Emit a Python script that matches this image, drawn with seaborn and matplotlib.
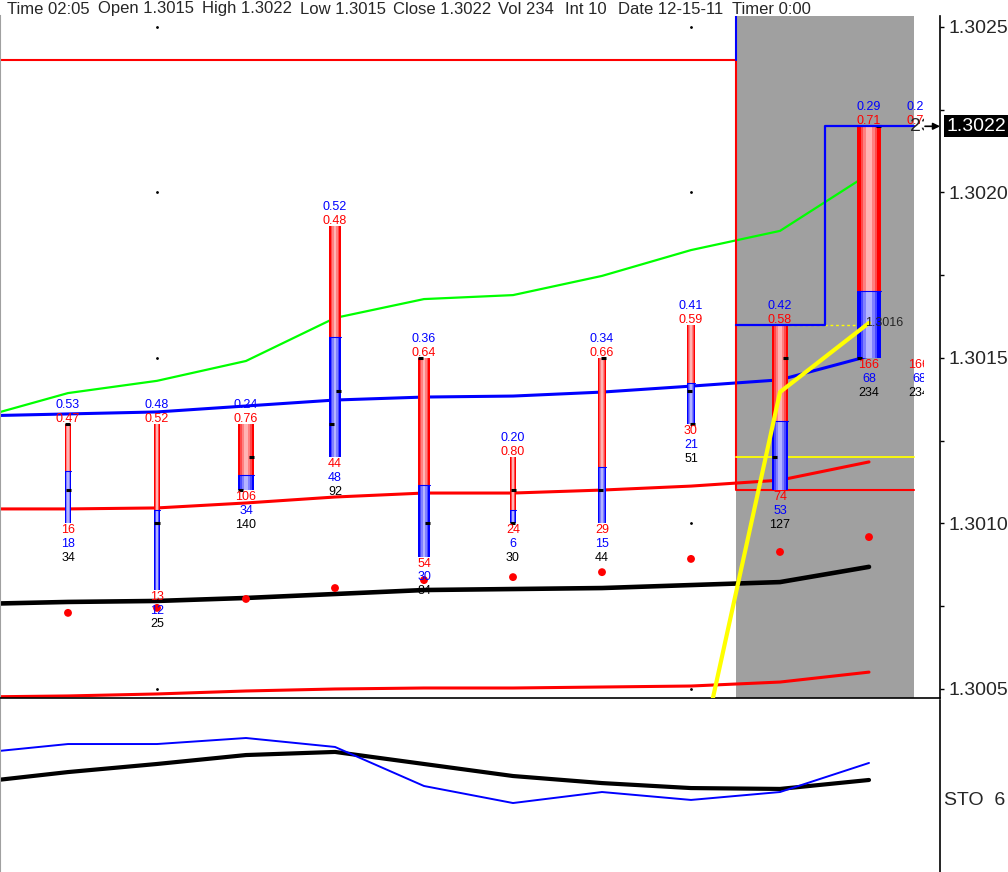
import numpy as np
import pandas as pd
import seaborn as sns
import matplotlib
matplotlib.use("Agg")
import matplotlib.pyplot as plt
from matplotlib.ticker import FormatStrFormatter, MultipleLocator
from matplotlib.transforms import Bbox, TransformedBbox, blended_transform_factory


# bars (10 intervals of 10 ticks)
bar_idx = list(range(10))
highs = [1.3013, 1.3013, 1.3013, 1.3019, 1.3015, 1.3012, 1.3015, 1.3016, 1.3016, 1.3022]
lows = [1.3010, 1.3008, 1.3011, 1.3012, 1.3009, 1.3010, 1.3010, 1.3013, 1.3011, 1.3015]
opens = [1.3013, 1.3010, 1.3011, 1.3013, 1.3015, 1.3010, 1.3011, 1.3014, 1.3012, 1.3015]
closes = [1.3011, 1.3010, 1.3012, 1.3014, 1.3010, 1.3011, 1.3015, 1.3013, 1.3015, 1.3022]
buy_ratio = [0.53, 0.48, 0.24, 0.52, 0.36, 0.20, 0.34, 0.41, 0.42, 0.29]
sell_ratio = [0.47, 0.52, 0.76, 0.48, 0.64, 0.80, 0.66, 0.59, 0.58, 0.71]
sell_vol = [16, 13, 106, 44, 54, 24, 29, 30, 74, 166]
buy_vol = [18, 12, 34, 48, 30, 6, 15, 21, 53, 68]
total_vol = [34, 25, 140, 92, 84, 30, 44, 51, 127, 234]

# indicator lines (first point is the bar before the visible range)
line_idx = list(range(-1, 10))
green_ma = [1.301319, 1.301394, 1.301431, 1.301491, 1.301621, 1.301678,
            1.301690, 1.301748, 1.301826, 1.301884, 1.302056]
blue_ma = [1.301325, 1.301331, 1.301337, 1.301355, 1.301373, 1.301382,
           1.301385, 1.301397, 1.301415, 1.301434, 1.301506]
red_band = [1.301044, 1.301044, 1.301047, 1.301062, 1.301080, 1.301092,
            1.301092, 1.301101, 1.301113, 1.301131, 1.301186]
black_ma = [1.300757, 1.300763, 1.300766, 1.300775, 1.300787, 1.300799,
            1.300802, 1.300805, 1.300814, 1.300823, 1.300869]
low_band = [1.300476, 1.300479, 1.300485, 1.300494, 1.300500, 1.300503,
            1.300503, 1.300506, 1.300509, 1.300521, 1.300551]
red_dots = [1.300730, 1.300745, 1.300772, 1.300805, 1.300829, 1.300838,
            1.300853, 1.300893, 1.300914, 1.300959]

yellow_idx = [7, 8, 9]
yellow_line = [1.300171, 1.301397, 1.301606]

# levels of the zone drawn on the last two bars
box_top = 1.3024
box_bottom = 1.3011
yellow_level = 1.3012
step_levels = [1.3016, 1.3022]
last_price = 1.3022

# stochastic panel
sto_k = [69.2, 74.4, 74.4, 77.9, 72.7, 50.0, 40.1, 46.5, 41.9, 46.5, 63.4]
sto_d = [52.3, 58.1, 62.8, 68.0, 69.8, 62.8, 55.8, 51.7, 48.8, 48.3, 53.5]

header = [("Time 02:05", 7), ("Open 1.3015", 98), ("High 1.3022", 202),
          ("Low 1.3015", 300), ("Close 1.3022", 393), ("Vol 234", 498),
          ("Int 10", 565), ("Date 12-15-11", 618), ("Timer 0:00", 732)]


sns.set_style("white")
plt.rcParams['font.family'] = ['Liberation Sans', 'DejaVu Sans']

W, H = 1008, 872
fig = plt.figure(figsize=(W / 100, H / 100), dpi=100)
ax = fig.add_axes([0, 1 - 698 / H, 940 / W, 682 / H])
ax2 = fig.add_axes([0, 0, 940 / W, 172 / H])

# bar spacing is 89 px, first bar at 68 px
def px2x(px):
    return (px - 68) / 89.0

x_left, x_right = px2x(0), px2x(940)
for a in (ax, ax2):
    a.set_xlim(x_left, x_right)
    a.set_xticks([])
    a.set_facecolor('white')
ax.set_ylim(1.3004728, 1.3025332)
ax2.set_ylim(0, 100)

zone_start, zone_mid, zone_end = bar_idx[7] + 0.5, bar_idx[8] + 0.5, bar_idx[9] + 0.5

# shaded zone
ax.axvspan(zone_start, zone_end, color='#a0a0a0', lw=0, zorder=0)

# indicator lines
sns.lineplot(x=line_idx, y=low_band, ax=ax, color='red', linewidth=2.2, zorder=2)
sns.lineplot(x=line_idx, y=black_ma, ax=ax, color='black', linewidth=3.3, zorder=2)
sns.lineplot(x=line_idx, y=red_band, ax=ax, color='red', linewidth=2.2, zorder=2)
sns.lineplot(x=line_idx, y=blue_ma, ax=ax, color='blue', linewidth=2.2, zorder=2)
sns.lineplot(x=line_idx, y=green_ma, ax=ax, color='#00ff00', linewidth=1.6, zorder=2)
sns.scatterplot(x=bar_idx, y=red_dots, ax=ax, color='red', s=32, edgecolor='none', zorder=3)

# zone box / levels
ax.plot([x_left, zone_start, zone_start, zone_end], [box_top, box_top, box_bottom, box_bottom],
        color='red', lw=1.5, zorder=2)
ax.plot([zone_start, zone_start], [box_top, ax.get_ylim()[1]], color='blue', lw=1.5, zorder=2)
ax.plot([zone_start, zone_end], [yellow_level, yellow_level], color='yellow', lw=1.3, zorder=2)
ax.plot([bar_idx[8], bar_idx[9]], [step_levels[0], step_levels[0]], color='yellow', lw=1.0,
        ls=(0, (2, 2)), zorder=2)

# gradient bars (red = sell part on top, blue = buy part below)
red_shades = ['#ff0000', '#ff4a4a', '#ff8080', '#ffb4b4']
blue_shades = ['#0000ff', '#4a4aff', '#8080ff', '#b4b4ff']
fracs = [1.0, 0.72, 0.48, 0.24]
for i in bar_idx:
    w = 0.6 * total_vol[i] ** 0.67 / 89.0
    rng = highs[i] - lows[i]
    split = highs[i] - sell_ratio[i] * rng
    for f, rc, bc in zip(fracs, red_shades, blue_shades):
        ax.bar(i, highs[i] - split, width=w * f, bottom=split, color=rc, lw=0, zorder=4)
        ax.bar(i, split - lows[i], width=w * f, bottom=lows[i], color=bc, lw=0, zorder=4)
    ax.plot([i - w / 2, i + w / 2], [split, split], color='blue', lw=0.8, zorder=4)
    tick = min(5 / 89.0, w)
    ax.plot([i - w / 2, i - w / 2 + tick], [opens[i], opens[i]], color='black', lw=2.2,
            solid_capstyle='butt', zorder=5)
    ax.plot([i + w / 2 - tick, i + w / 2], [closes[i], closes[i]], color='black', lw=2.2,
            solid_capstyle='butt', zorder=5)

# yellow forecast line and blue step (on top of the bars)
sns.lineplot(x=yellow_idx, y=yellow_line, ax=ax, color='yellow', linewidth=3.0, zorder=6)
ax.plot([zone_start, zone_mid, zone_mid, zone_end],
        [step_levels[0], step_levels[0], step_levels[1], step_levels[1]],
        color='blue', lw=1.6, zorder=6)
ax.text(px2x(865), yellow_line[-1], '%.4f' % yellow_line[-1], fontsize=9,
        ha='left', va='center', zorder=7)

# tiny grid dots
for gx in (1, 7):
    ax.scatter([gx] * 5, [1.3005, 1.3010, 1.3015, 1.3020, 1.3025], s=1, color='black',
               zorder=1)


def bar_labels(x, i, clip=None):
    items = [(highs[i], 13.7, '%.2f' % buy_ratio[i], 'blue'),
             (highs[i], 3.6, '%.2f' % sell_ratio[i], 'red'),
             (lows[i], -5.0, str(sell_vol[i]), 'red'),
             (lows[i], -15.0, str(buy_vol[i]), 'blue'),
             (lows[i], -25.0, str(total_vol[i]), 'black')]
    for y, dy, s, c in items:
        t = ax.annotate(s, (x, y), xytext=(0, dy), textcoords='offset points',
                        ha='center', va='center', fontsize=9, color=c, zorder=7)
        if clip is not None:
            t.set_clip_box(clip)
            t.set_clip_on(True)


for i in bar_idx:
    bar_labels(i, i)

# labels of the running bar repeated at the right, cut off by the zone
clip = TransformedBbox(Bbox([[x_left, 1.300], [px2x(924), 1.303]]), ax.transData)
bar_labels(bar_idx[9] + 50 / 89.0, 9, clip)
t = ax.text(px2x(910), last_price, str(total_vol[9]), fontsize=14, ha='left', va='center',
            zorder=7)
t.set_clip_box(clip)
t.set_clip_on(True)
ax.annotate('', xy=(x_right, last_price), xytext=(px2x(925), last_price),
            arrowprops=dict(arrowstyle='-|>', color='black', lw=1.2, mutation_scale=10,
                            shrinkA=0, shrinkB=0),
            annotation_clip=False, zorder=7)

# price axis on the right
ax.yaxis.set_major_locator(MultipleLocator(0.0005))
ax.yaxis.set_minor_locator(MultipleLocator(0.00025))
ax.yaxis.set_major_formatter(FormatStrFormatter('%.4f'))
ax.tick_params(axis='y', which='both', left=False, labelleft=False, right=True,
               labelright=True, direction='out', length=3, width=1, color='black',
               pad=3, labelsize=14)
ax.tick_params(axis='y', which='minor', labelright=False)
trans = blended_transform_factory(ax.transAxes, ax.transData)
ax.text(1 + 6 / 940, last_price, '%.4f' % last_price, transform=trans, color='white',
        fontsize=14, ha='left', va='center',
        bbox=dict(boxstyle='square,pad=0.12', fc='black', ec='none'))

for a in (ax, ax2):
    a.spines['top'].set_visible(False)
    a.spines['left'].set_color('#a0a0a0')
    a.spines['left'].set_linewidth(1.5)
    a.spines['right'].set_color('black')
    a.spines['right'].set_linewidth(1.2)
ax.spines['bottom'].set_color('black')
ax.spines['bottom'].set_linewidth(1.2)
ax2.spines['bottom'].set_visible(False)
ax.set_xlabel('')
ax.set_ylabel('')

# stochastic panel
sns.lineplot(x=line_idx, y=sto_d, ax=ax2, color='black', linewidth=3.0)
sns.lineplot(x=line_idx, y=sto_k, ax=ax2, color='blue', linewidth=1.4)
ax2.set_yticks([])
ax2.set_xlabel('')
ax2.set_ylabel('')
fig.text(944 / W, 1 - 800 / H, 'STO  6', fontsize=14, ha='left', va='center')

for s, px in header:
    fig.text(px / W, 1 - 9 / H, s, fontsize=12, ha='left', va='center')

fig.savefig('out.png', dpi=100)
